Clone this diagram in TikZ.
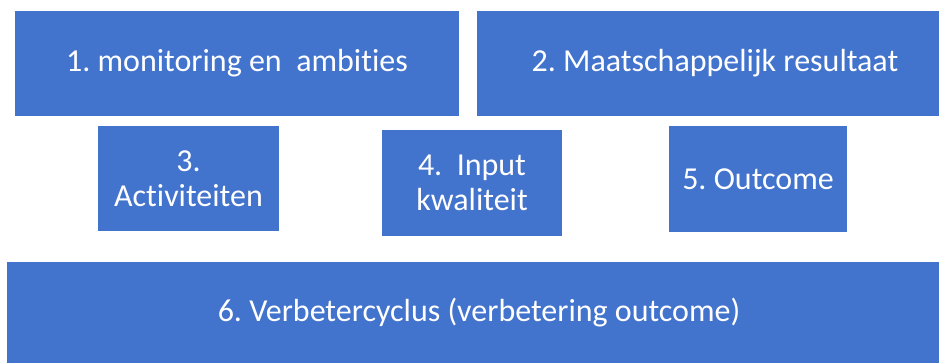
\documentclass[tikz,border=0pt]{standalone}
\usepackage{fontspec}
\setmainfont{Carlito}[Ligatures=NoCommon]
\definecolor{blokblauw}{RGB}{66,115,205}
\usetikzlibrary{positioning}
\frenchspacing

\begin{document}
\begin{tikzpicture}[x=1pt, y=-1pt,
    blok/.style={rectangle, fill=blokblauw, inner sep=0pt, align=center,
                 text=white, font=\fontsize{32}{35}\selectfont}
  ]
    \useasboundingbox (0,0) rectangle (939,363);

    % Bovenste rij
    \node[blok, minimum width=444pt, minimum height=105pt] (monitoring) at (237, 63.5) {1. monitoring en\ \ ambities};
    \node[blok, minimum width=462pt, minimum height=105pt] (resultaat) at (708, 63.5) {\hspace*{14pt}2. Maatschappelijk resultaat};

    % Middelste rij
    \node[blok, minimum width=181pt, minimum height=105pt] (activiteiten) at (188.5, 178.5) {3.\\Activiteiten};
    \node[blok, minimum width=180pt, minimum height=106pt] (input) at (472, 183) {4.\ \ Input\\kwaliteit};
    \node[blok, minimum width=178pt, minimum height=106pt] (outcome) at (758, 179) {5. Outcome};

    % Onderste rij
    \node[blok, minimum width=932pt, minimum height=101pt] (verbetercyclus) at (473, 312.5) {\hspace*{12pt}6. Verbetercyclus (verbetering outcome)};
  \end{tikzpicture}
\end{document}
